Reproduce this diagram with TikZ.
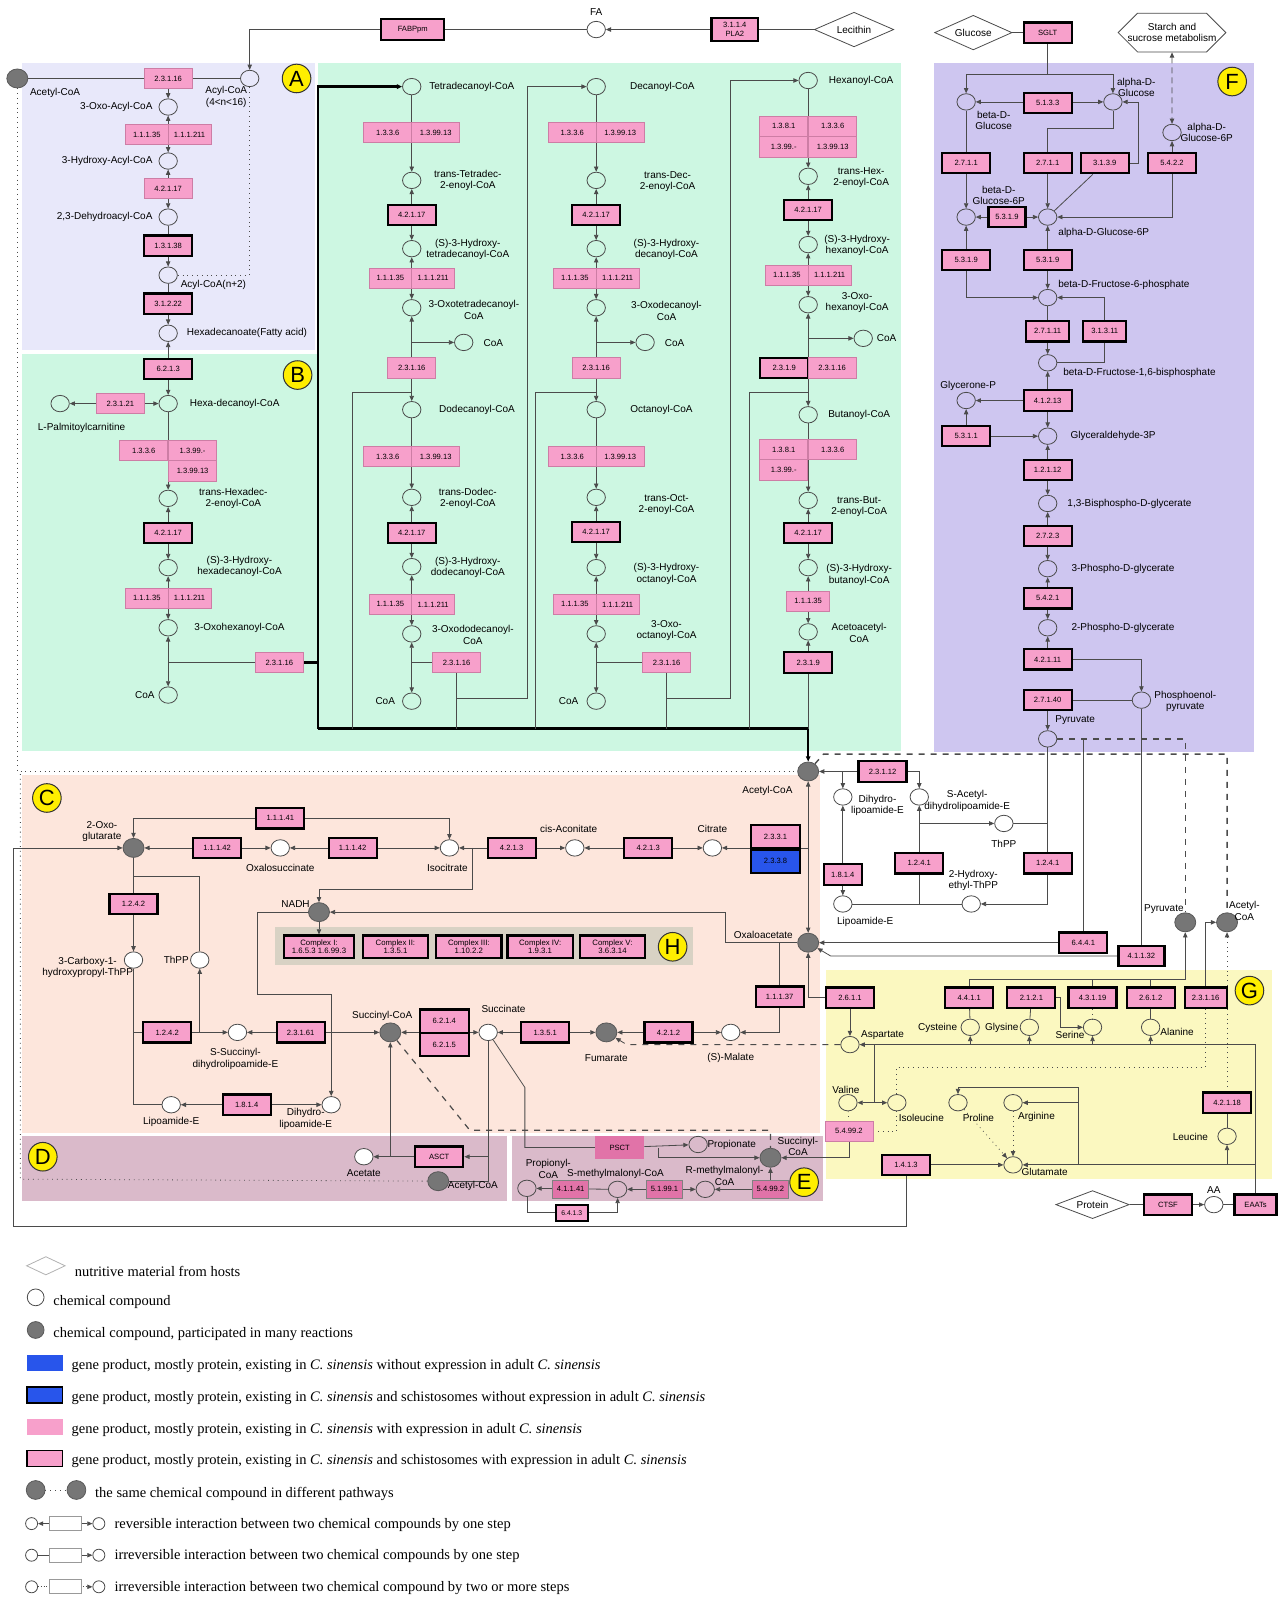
\documentclass[tikz,border=0pt]{standalone}
\usepackage{fontspec}
\setmainfont{Liberation Sans}
\newfontfamily\legendfont{Liberation Serif}
\usetikzlibrary{arrows.meta,shapes.geometric,shapes.misc}

\definecolor{enzpink}{RGB}{247,160,203}
\definecolor{enzline}{RGB}{205,125,165}
\definecolor{enzdeep}{RGB}{225,115,168}
\definecolor{hubgray}{RGB}{118,118,118}
\definecolor{wire}{RGB}{75,75,75}
\definecolor{geneblue}{RGB}{40,85,235}
\definecolor{regA}{RGB}{232,232,250}
\definecolor{regB}{RGB}{205,247,226}
\definecolor{regC}{RGB}{253,230,220}
\definecolor{regD}{RGB}{218,186,202}
\definecolor{regF}{RGB}{206,198,240}
\definecolor{regG}{RGB}{251,248,192}
\definecolor{regH}{RGB}{216,210,196}
\definecolor{markyellow}{RGB}{255,238,0}

\pgfdeclarelayer{regions}
\pgfdeclarelayer{edges}
\pgfsetlayers{regions,edges,main}

\newcommand{\lblfont}{\fontsize{5}{5.7}\selectfont}
\newcommand{\enzfont}{\fontsize{3.8}{4.4}\selectfont}
\newcommand{\legfont}{\legendfont\fontsize{7.25}{8.5}\selectfont}

\tikzset{
  cpd/.style={
    ellipse,
    draw=wire,
    line width=0.4pt,
    minimum width=9.2pt,
    minimum height=8.2pt,
    inner sep=0,
  },
  cpdw/.style={cpd,fill=white},
  hub/.style={
    ellipse,
    draw=black!65,
    fill=hubgray,
    minimum width=10.5pt,
    minimum height=9.5pt,
    inner sep=0,
  },
  enz/.style={
    rectangle,
    fill=enzpink,
    draw=enzline,
    line width=0.3pt,
    minimum width=24pt,
    minimum height=10.2pt,
    inner sep=0,
    font=\enzfont,
  },
  enzb/.style={enz,draw=black,line width=1.1pt},
  enzn/.style={enz,minimum width=21.4pt},
  enzs/.style={enz,fill=enzdeep,draw=black!50,minimum width=18pt,minimum height=9pt},
  cplx/.style={enzb,minimum width=32.6pt,minimum height=11.2pt,align=center,
    font=\fontsize{3.9}{4.3}\selectfont},
  lbl/.style={font=\lblfont,align=center,inner sep=0},
  diam/.style={diamond,draw=wire,fill=white,aspect=2.3,inner sep=0,
    minimum width=39.7pt,minimum height=17.3pt,font=\lblfont},
  octa/.style={chamfered rectangle,chamfered rectangle xsep=5pt,
    chamfered rectangle ysep=5pt,draw=wire,fill=white,minimum width=47pt,
    minimum height=18.5pt,inner sep=0,align=center,font=\lblfont},
  letter/.style={circle,draw=black!80,fill=markyellow,line width=0.5pt,
    minimum size=14.3pt,inner sep=0,font=\fontsize{11}{11}\selectfont},
  leg/.style={anchor=west,inner sep=0,font=\legfont},
  swatch/.style={rectangle,minimum width=17.8pt,minimum height=8pt,inner sep=0},
  thickline/.style={line width=1.2pt,draw=black},
}

\begin{document}
\begin{tikzpicture}[x=0.5096pt,y=-0.5096pt,>={Triangle[length=2.6pt,width=2.2pt]}]
  \useasboundingbox (0,0) rectangle (1254,1568);

  % coloured areas
  \begin{pgfonlayer}{regions}
    \fill[regA] (22,62) rectangle (309,343);
    \fill[regB] (22,347) rectangle (312,737);
    \fill[regB] (312,62) rectangle (884,737);
    \fill[regF] (916,62) rectangle (1230,738);
    \fill[regC] (22,760) rectangle (805,1112);
    \fill[regD] (22,1115) rectangle (497,1178);
    \fill[regD] (502,1115) rectangle (808,1178);
    \fill[regG] (810,952) rectangle (1248,1157);
    \fill[regH] (270,910) rectangle (680,947);
  \end{pgfonlayer}

  \node[letter] (letA) at (291,77) {A};
  \node[letter] (letB) at (292,368) {B};
  \node[letter] (letC) at (46,783) {C};
  \node[letter] (letD) at (42,1135) {D};
  \node[letter] (letE) at (789,1160) {E};
  \node[letter] (letF) at (1209,80) {F};
  \node[letter] (letG) at (1226,972) {G};
  \node[letter] (letH) at (660,929) {H};

  % lipid from host
  \node[diam] (lecithin) at (838,29) {Lecithin};
  \node[enzb,align=center,minimum width=23.4pt,minimum height=11.2pt] (pla2) at (721,29) {3.1.1.4\\PLA2};
  \node[cpd] (fa) at (585,29) {};
  \node[lbl] (tfa) at (585,12) {FA};
  \node[enzb,minimum width=31.6pt] (fabp) at (405,29) {FABPpm};

  % A
  \node[hub] (acA) at (17,77) {};
  \node[lbl] (tacA) at (54,91) {Acetyl-CoA};
  \node[enz] (a1) at (165,77) {2.3.1.16};
  \node[cpd] (acyl) at (245,77) {};
  \node[lbl] (tacyl) at (222,95) {Acyl-CoA\\(4<n<16)};
  \node[cpd] (a3oxo) at (165,105) {};
  \node[lbl,anchor=east] (ta3oxo) at (150,105) {3-Oxo-Acyl-CoA};
  \node[enzn] (a2l) at (144,132) {1.1.1.35};
  \node[enzn] (a2r) at (186,132) {1.1.1.211};
  \node[cpd] (a3hyd) at (165,158) {};
  \node[lbl,anchor=east] (ta3hyd) at (150,158) {3-Hydroxy-Acyl-CoA};
  \node[enz] (a3) at (165,185) {4.2.1.17};
  \node[cpd] (adeh) at (165,213) {};
  \node[lbl,anchor=east] (tadeh) at (150,213) {2,3-Dehydroacyl-CoA};
  \node[enzb] (a4) at (165,241) {1.3.1.38};
  \node[cpd] (acyl2) at (165,270) {};
  \node[lbl,anchor=west] (tacyl2) at (177,280) {Acyl-CoA(n+2)};
  \node[enzb] (a5) at (165,298) {3.1.2.22};
  \node[cpd] (hexacid) at (165,327) {};
  \node[lbl,anchor=west] (thexacid) at (183,327) {Hexadecanoate(Fatty acid)};

  % B
  \node[enzb] (b1) at (165,362) {6.2.1.3};
  \node[cpd] (hexcoa) at (165,396) {};
  \node[lbl,anchor=west] (thexcoa) at (186,396) {Hexa-decanoyl-CoA};
  \node[enz] (b2) at (118,396) {2.3.1.21};
  \node[cpd] (palm) at (59,396) {};
  \node[lbl] (tpalm) at (80,420) {L-Palmitoylcarnitine};
  \node[enz] (b3a) at (141,442) {1.3.3.6};
  \node[enz] (b3b) at (189,442) {1.3.99.-};
  \node[enz] (b3c) at (189,462) {1.3.99.13};
  \node[cpd] (b4) at (165,489) {};
  \node[lbl] (tb4) at (229,489) {trans-Hexadec-\\2-enoyl-CoA};
  \node[enzb] (b5) at (165,523) {4.2.1.17};
  \node[cpd] (b6) at (165,557) {};
  \node[lbl] (tb6) at (235,556) {(S)-3-Hydroxy-\\hexadecanoyl-CoA};
  \node[enzn] (b7a) at (144,587) {1.1.1.35};
  \node[enzn] (b7b) at (186,587) {1.1.1.211};
  \node[cpd] (b8) at (165,616) {};
  \node[lbl] (tb8) at (235,616) {3-Oxohexanoyl-CoA};
  \node[enz] (b9) at (274,650) {2.3.1.16};
  \node[cpd] (b10) at (165,682) {};
  \node[lbl,anchor=east] (tb10) at (152,682) {CoA};

  % first column
  \node[cpd] (tet) at (404,85) {};
  \node[lbl] (ttet) at (463,85) {Tetradecanoyl-CoA};
  \node[enz] (k1a) at (380.5,130) {1.3.3.6};
  \node[enz] (k1b) at (427.5,130) {1.3.99.13};
  \node[cpd] (k1c) at (404,177) {};
  \node[lbl] (tk1c) at (459,177) {trans-Tetradec-\\2-enoyl-CoA};
  \node[enzb] (k1d) at (404,211) {4.2.1.17};
  \node[cpd] (k1e) at (404,244) {};
  \node[lbl] (tk1e) at (459,245) {(S)-3-Hydroxy-\\tetradecanoyl-CoA};
  \node[enzn] (k1f) at (383,273) {1.1.1.35};
  \node[enzn] (k1g) at (425,273) {1.1.1.211};
  \node[cpd] (k1h) at (404,302) {};
  \node[lbl] (tk1h) at (465,304) {3-Oxotetradecanoyl-\\CoA};
  \node[cpd] (k1coa) at (455,336) {};
  \node[lbl] (tk1coa) at (484,337) {CoA};
  \node[enz] (k1i) at (404,361) {2.3.1.16};
  \node[cpd] (dod) at (404,402) {};
  \node[lbl] (tdod) at (468,402) {Dodecanoyl-CoA};
  \node[enz] (k2a) at (380.5,448) {1.3.3.6};
  \node[enz] (k2b) at (427.5,448) {1.3.99.13};
  \node[cpd] (k2c) at (404,488) {};
  \node[lbl] (tk2c) at (459,489) {trans-Dodec-\\2-enoyl-CoA};
  \node[enzb] (k2d) at (404,523) {4.2.1.17};
  \node[cpd] (k2e) at (404,556) {};
  \node[lbl] (tk2e) at (459,557) {(S)-3-Hydroxy-\\dodecanoyl-CoA};
  \node[enzn] (k2f) at (383,593) {1.1.1.35};
  \node[enzn] (k2g) at (425,593) {1.1.1.211};
  \node[cpd] (k2h) at (404,622) {};
  \node[lbl] (tk2h) at (464,623) {3-Oxododecanoyl-\\CoA};
  \node[enz] (k2i) at (448,650) {2.3.1.16};
  \node[cpd] (k2coa) at (404,688) {};
  \node[lbl] (tk2coa) at (378,688) {CoA};

  % second column
  \node[cpd] (dec) at (585,85) {};
  \node[lbl] (tdec) at (650,85) {Decanoyl-CoA};
  \node[enz] (k3a) at (561.5,130) {1.3.3.6};
  \node[enz] (k3b) at (608.5,130) {1.3.99.13};
  \node[cpd] (k3c) at (585,177) {};
  \node[lbl] (tk3c) at (655,178) {trans-Dec-\\2-enoyl-CoA};
  \node[enzb] (k3d) at (585,211) {4.2.1.17};
  \node[cpd] (k3e) at (585,244) {};
  \node[lbl] (tk3e) at (654,245) {(S)-3-Hydroxy-\\decanoyl-CoA};
  \node[enzn] (k3f) at (564,273) {1.1.1.35};
  \node[enzn] (k3g) at (606,273) {1.1.1.211};
  \node[cpd] (k3h) at (585,302) {};
  \node[lbl] (tk3h) at (654,305) {3-Oxodecanoyl-\\CoA};
  \node[cpd] (k3coa) at (633,336) {};
  \node[lbl] (tk3coa) at (662,337) {CoA};
  \node[enz] (k3i) at (585,361) {2.3.1.16};
  \node[cpd] (oct) at (585,402) {};
  \node[lbl] (toct) at (649,402) {Octanoyl-CoA};
  \node[enz] (k4a) at (561.5,448) {1.3.3.6};
  \node[enz] (k4b) at (608.5,448) {1.3.99.13};
  \node[cpd] (k4c) at (585,488) {};
  \node[lbl] (tk4c) at (654,495) {trans-Oct-\\2-enoyl-CoA};
  \node[enzb] (k4d) at (585,522) {4.2.1.17};
  \node[cpd] (k4e) at (585,557) {};
  \node[lbl] (tk4e) at (654,563) {(S)-3-Hydroxy-\\octanoyl-CoA};
  \node[enzn] (k4f) at (564,593) {1.1.1.35};
  \node[enzn] (k4g) at (606,593) {1.1.1.211};
  \node[cpd] (k4h) at (585,622) {};
  \node[lbl] (tk4h) at (654,619) {3-Oxo-\\octanoyl-CoA};
  \node[enz] (k4i) at (654,650) {2.3.1.16};
  \node[cpd] (k4coa) at (585,688) {};
  \node[lbl] (tk4coa) at (558,688) {CoA};

  % third column
  \node[cpd] (hexn) at (793,79) {};
  \node[lbl] (thexn) at (845,79) {Hexanoyl-CoA};
  \node[enz] (k5a) at (769,124) {1.3.8.1};
  \node[enz] (k5b) at (817,124) {1.3.3.6};
  \node[enz] (k5c) at (769,144) {1.3.99.-};
  \node[enz] (k5d) at (817,144) {1.3.99.13};
  \node[cpd] (k5e) at (793,173) {};
  \node[lbl] (tk5e) at (845,174) {trans-Hex-\\2-enoyl-CoA};
  \node[enzb] (k5f) at (793,206) {4.2.1.17};
  \node[cpd] (k5g) at (793,240) {};
  \node[lbl] (tk5g) at (841,241) {(S)-3-Hydroxy-\\hexanoyl-CoA};
  \node[enzn] (k5h) at (772,270) {1.1.1.35};
  \node[enzn] (k5i) at (814,270) {1.1.1.211};
  \node[cpd] (k5j) at (793,299) {};
  \node[lbl] (tk5j) at (841,297) {3-Oxo-\\hexanoyl-CoA};
  \node[cpd] (k5coa) at (847,332) {};
  \node[lbl] (tk5coa) at (870,332) {CoA};
  \node[enzb] (k5k) at (769.5,361) {2.3.1.9};
  \node[enz] (k5l) at (816.5,361) {2.3.1.16};
  \node[cpd] (but) at (793,407) {};
  \node[lbl] (tbut) at (843,407) {Butanoyl-CoA};
  \node[enz] (k6a) at (769,441) {1.3.8.1};
  \node[enz] (k6b) at (817,441) {1.3.3.6};
  \node[enz] (k6c) at (769,461) {1.3.99.-};
  \node[cpd] (k6d) at (793,491) {};
  \node[lbl] (tk6d) at (843,497) {trans-But-\\2-enoyl-CoA};
  \node[enzb] (k6e) at (793,523) {4.2.1.17};
  \node[cpd] (k6f) at (793,557) {};
  \node[lbl] (tk6f) at (843,564) {(S)-3-Hydroxy-\\butanoyl-CoA};
  \node[enzn] (k6g) at (793,590) {1.1.1.35};
  \node[cpd] (k6h) at (793,620) {};
  \node[lbl] (tk6h) at (843,621) {Acetoacetyl-\\CoA};
  \node[enzb] (k6i) at (793,650) {2.3.1.9};

  % F glycolysis
  \node[diam,minimum width=38.7pt] (glc) at (955,32) {Glucose};
  \node[enzb] (sglt) at (1028,32) {SGLT};
  \node[octa] (starch) at (1150,32) {Starch and\\sucrose metabolism};
  \node[cpd] (bglc) at (948,100) {};
  \node[lbl] (tbglc) at (975,118) {beta-D-\\Glucose};
  \node[cpd] (aglc) at (1092,100) {};
  \node[lbl] (taglc) at (1115,86) {alpha-D-\\Glucose};
  \node[enzb] (f5133) at (1028,101) {5.1.3.3};
  \node[enzb] (f2711a) at (948,160) {2.7.1.1};
  \node[enzb] (f2711b) at (1028,160) {2.7.1.1};
  \node[enzb] (f3139) at (1084,160) {3.1.3.9};
  \node[enzb] (f5422) at (1150,160) {5.4.2.2};
  \node[cpd] (ag6b) at (1150,130) {};
  \node[lbl] (tag6b) at (1184,130) {alpha-D-\\Glucose-6P};
  \node[cpd] (bg6) at (948,213) {};
  \node[lbl] (tbg6) at (980,192) {beta-D-\\Glucose-6P};
  \node[cpd] (ag6) at (1028,213) {};
  \node[lbl] (tag6) at (1083,229) {alpha-D-Glucose-6P};
  \node[enzb,minimum width=18.5pt] (f5319a) at (988,213) {5.3.1.9};
  \node[enzb] (f5319b) at (948,255) {5.3.1.9};
  \node[enzb] (f5319c) at (1028,255) {5.3.1.9};
  \node[cpd] (f6p) at (1028,292) {};
  \node[lbl,anchor=west] (tf6p) at (1038,280) {beta-D-Fructose-6-phosphate};
  \node[enzb,minimum width=21.4pt] (f27111) at (1028,325) {2.7.1.11};
  \node[enzb,minimum width=21.4pt] (f31311) at (1084,325) {3.1.3.11};
  \node[cpd] (fbp) at (1028,356) {};
  \node[lbl,anchor=west] (tfbp) at (1043,366) {beta-D-Fructose-1,6-bisphosphate};
  \node[enzb] (f41213) at (1028,393) {4.1.2.13};
  \node[cpd] (dhap) at (948,393) {};
  \node[lbl] (tdhap) at (950,379) {Glycerone-P};
  \node[enzb] (f5311) at (948,428) {5.3.1.1};
  \node[cpd] (gap) at (1028,428) {};
  \node[lbl,anchor=west] (tgap) at (1050,428) {Glyceraldehyde-3P};
  \node[enzb] (f12112) at (1028,461) {1.2.1.12};
  \node[cpd] (bpg) at (1028,494) {};
  \node[lbl,anchor=west] (tbpg) at (1047,494) {1,3-Bisphospho-D-glycerate};
  \node[enzb] (f2723) at (1028,526) {2.7.2.3};
  \node[cpd] (pg3) at (1028,558) {};
  \node[lbl,anchor=west] (tpg3) at (1051,558) {3-Phospho-D-glycerate};
  \node[enzb] (f5421) at (1028,587) {5.4.2.1};
  \node[cpd] (pg2) at (1028,616) {};
  \node[lbl,anchor=west] (tpg2) at (1051,616) {2-Phospho-D-glycerate};
  \node[enzb] (f42111) at (1028,647) {4.2.1.11};
  \node[enzb] (f27140) at (1028,687) {2.7.1.40};
  \node[cpd] (pep) at (1120,687) {};
  \node[lbl] (tpep) at (1163,688) {Phosphoenol-\\pyruvate};
  \node[cpd] (pyr) at (1028,725) {};
  \node[lbl] (tpyr) at (1055,707) {Pyruvate};

  % pyruvate dehydrogenase
  \node[hub] (acC) at (793,757) {};
  \node[lbl] (tacC) at (753,776) {Acetyl-CoA};
  \node[enzb] (p23112) at (866,757) {2.3.1.12};
  \node[cpdw] (dhlp) at (827,782) {};
  \node[lbl] (tdhlp) at (861,790) {Dihydro-\\lipoamide-E};
  \node[cpdw] (sacd) at (902,782) {};
  \node[lbl] (tsacd) at (949,786) {S-Acetyl-\\dihydrolipoamide-E};
  \node[enzb,minimum width=19pt] (p1814) at (827,858) {1.8.1.4};
  \node[cpdw] (lipP) at (827,887) {};
  \node[lbl] (tlipP) at (849,905) {Lipoamide-E};
  \node[enzb] (p1241a) at (902,847) {1.2.4.1};
  \node[cpdw] (hyd) at (953,887) {};
  \node[lbl] (thyd) at (955,864) {2-Hydroxy-\\ethyl-ThPP};
  \node[cpdw] (thp2) at (985,808) {};
  \node[lbl] (tthp2) at (985,828) {ThPP};
  \node[enzb] (p1241b) at (1028,847) {1.2.4.1};
  \node[enzb] (p6441) at (1063,925) {6.4.4.1};
  \node[enzb,minimum width=23pt] (p41132) at (1120,938) {4.1.1.32};

  % C citrate cycle
  \node[hub] (og) at (131,832) {};
  \node[lbl] (tog) at (100,816) {2-Oxo-\\glutarate};
  \node[enzb] (c1141) at (275,803) {1.1.1.41};
  \node[enzb] (c1142a) at (213,832) {1.1.1.42};
  \node[cpdw] (oxs) at (275,832) {};
  \node[lbl] (toxs) at (275,852) {Oxalosuccinate};
  \node[enzb] (c1142b) at (346,832) {1.1.1.42};
  \node[cpdw] (iso) at (441,832) {};
  \node[lbl] (tiso) at (439,852) {Isocitrate};
  \node[enzb] (c4213a) at (502,832) {4.2.1.3};
  \node[cpdw] (cis) at (564,832) {};
  \node[lbl] (tcis) at (558,813) {cis-Aconitate};
  \node[enzb] (c4213b) at (636,832) {4.2.1.3};
  \node[cpdw] (cit) at (699,832) {};
  \node[lbl] (tcit) at (699,813) {Citrate};
  \node[enzb,minimum height=11.7pt,minimum width=24.5pt] (c2331) at (761,821) {2.3.3.1};
  \node[enzb,minimum height=11.7pt,minimum width=24.5pt,fill=geneblue] (c2338) at (761,845) {2.3.3.8};
  \node[hub] (oaa) at (793,925) {};
  \node[lbl] (toaa) at (749,917) {Oxaloacetate};
  \node[hub] (nadh) at (313,895) {};
  \node[lbl] (tnadh) at (290,887) {NADH};
  \node[cplx,minimum width=35pt] (cI) at (313,929) {Complex I:\\1.6.5.3 1.6.99.3};
  \node[cplx] (cII) at (388,929) {Complex II:\\1.3.5.1};
  \node[cplx] (cIII) at (460,929) {Complex III:\\1.10.2.2};
  \node[cplx] (cIV) at (530,929) {Complex IV:\\1.9.3.1};
  \node[cplx] (cV) at (601,929) {Complex V:\\3.6.3.14};
  \node[enzb] (c1242a) at (131,887) {1.2.4.2};
  \node[cpdw] (cbx) at (131,942) {};
  \node[lbl] (tcbx) at (86,949) {3-Carboxy-1-\\hydroxypropyl-ThPP};
  \node[cpdw] (thpp) at (196,942) {};
  \node[lbl] (tthpp) at (173,942) {ThPP};
  \node[enzb] (c1242b) at (164,1013) {1.2.4.2};
  \node[cpdw] (ssd) at (233,1013) {};
  \node[lbl] (tssd) at (231,1039) {S-Succinyl-\\dihydrolipoamide-E};
  \node[enzb] (c23161) at (295,1013) {2.3.1.61};
  \node[hub] (sucC) at (383,1013) {};
  \node[lbl] (tsucC) at (375,997) {Succinyl-CoA};
  \node[enzb,minimum height=11.7pt,minimum width=24.5pt] (c6214) at (436,1002) {6.2.1.4};
  \node[enzb,minimum height=11.7pt,minimum width=24.5pt] (c6215) at (436,1025) {6.2.1.5};
  \node[cpdw] (succ) at (479,1013) {};
  \node[lbl] (tsucc) at (494,990) {Succinate};
  \node[enzb] (c1351) at (535,1013) {1.3.5.1};
  \node[hub] (fum) at (595,1013) {};
  \node[lbl] (tfum) at (595,1038) {Fumarate};
  \node[enzb] (c4212) at (656,1013) {4.2.1.2};
  \node[cpdw] (mal) at (717,1013) {};
  \node[lbl] (tmal) at (717,1038) {(S)-Malate};
  \node[enzb] (c11137) at (765,978) {1.1.1.37};
  \node[cpdw] (lip) at (168,1084) {};
  \node[lbl] (tlip) at (168,1101) {Lipoamide-E};
  \node[enzb] (c1814) at (242,1084) {1.8.1.4};
  \node[cpdw] (dhl) at (325,1084) {};
  \node[lbl] (tdhl) at (300,1098) {Dihydro-\\lipoamide-E};

  % D
  \node[enzb] (asct) at (431,1135) {ASCT};
  \node[cpdw] (acet) at (357,1135) {};
  \node[lbl] (tacet) at (357,1151) {Acetate};
  \node[hub] (acD) at (430,1159) {};
  \node[lbl] (tacD) at (464,1164) {Acetyl-CoA};

  % E
  \node[enzs,draw=none,minimum width=24.5pt,minimum height=11.2pt] (psct) at (608,1126) {PSCT};
  \node[cpd] (prop) at (685,1123) {};
  \node[lbl] (tprop) at (718,1123) {Propionate};
  \node[hub] (sucE) at (756,1136) {};
  \node[lbl] (tsucE) at (783,1125) {Succinyl-\\CoA};
  \node[cpd] (propC) at (517,1166) {};
  \node[lbl] (tpropC) at (538,1147) {Propionyl-\\CoA};
  \node[enzs] (e41141) at (560,1167) {4.1.1.41};
  \node[cpd] (mmS) at (606,1167) {};
  \node[lbl] (tmmS) at (604,1152) {S-methylmalonyl-CoA};
  \node[enzs] (e5199) at (652,1167) {5.1.99.1};
  \node[cpd] (mmR) at (692,1167) {};
  \node[lbl] (tmmR) at (711,1154) {R-methylmalonyl-\\CoA};
  \node[enzs] (e5499) at (756,1167) {5.4.99.2};
  \node[enzb,minimum width=16pt,minimum height=8pt,font=\fontsize{3.4}{4}\selectfont] (e6413) at (561,1190) {6.4.1.3};

  % G amino acids
  \node[enzb] (g2611) at (834,979) {2.6.1.1};
  \node[cpd] (asp) at (834,1025) {};
  \node[lbl] (tasp) at (866,1016) {Aspartate};
  \node[enzb] (g4411) at (951,979) {4.4.1.1};
  \node[enzb] (g2121) at (1012,979) {2.1.2.1};
  \node[enzb] (g43119) at (1072,979) {4.3.1.19};
  \node[enzb] (g2612) at (1129,979) {2.6.1.2};
  \node[enzb,minimum width=21pt] (g23116) at (1183,979) {2.3.1.16};
  \node[cpd] (cys) at (952,1008) {};
  \node[lbl] (tcys) at (920,1009) {Cysteine};
  \node[cpd] (gly) at (1010,1008) {};
  \node[lbl] (tgly) at (983,1009) {Glysine};
  \node[cpd] (ser) at (1072,1008) {};
  \node[lbl] (tser) at (1050,1015) {Serine};
  \node[cpd] (ala) at (1129,1008) {};
  \node[lbl] (tala) at (1155,1013) {Alanine};
  \node[hub] (pyG) at (1163,905) {};
  \node[lbl] (tpyG) at (1142,892) {Pyruvate};
  \node[hub] (acG) at (1204,905) {};
  \node[lbl] (tacG) at (1221,894) {Acetyl-\\CoA};
  \node[cpd] (val) at (832,1082) {};
  \node[lbl] (tval) at (830,1069) {Valine};
  \node[cpd] (ile) at (880,1082) {};
  \node[lbl] (tile) at (904,1097) {Isoleucine};
  \node[enz] (g5499) at (833,1110) {5.4.99.2};
  \node[cpd] (pro) at (940,1082) {};
  \node[lbl] (tpro) at (960,1097) {Proline};
  \node[cpd] (arg) at (994,1082) {};
  \node[lbl] (targ) at (1017,1096) {Arginine};
  \node[cpd] (glu) at (994,1143) {};
  \node[lbl] (tglu) at (1025,1150) {Glutamate};
  \node[enzb] (g1413) at (889,1143) {1.4.1.3};
  \node[enzb] (g42118) at (1204,1082) {4.2.1.18};
  \node[cpd] (leu) at (1204,1115) {};
  \node[lbl] (tleu) at (1168,1116) {Leucine};
  \node[diam,minimum width=36.7pt,minimum height=14pt] (prot) at (1072,1182) {Protein};
  \node[enzb] (ctsf) at (1146,1182) {CTSF};
  \node[cpdw] (aa) at (1191,1182) {};
  \node[lbl] (taa) at (1191,1168) {AA};
  \node[enzb,minimum width=21pt] (eaat) at (1232,1182) {EAATs};

  % connectors
  \begin{pgfonlayer}{edges}
  \begin{scope}[draw=wire,line width=0.4pt]
    \draw (lecithin) -- (pla2);
    \draw[->] (pla2) -- (fa);
    \draw (fa) -- (fabp);
    \draw[->] (fabp) -| (acyl);
    % A
    \draw (acA) -- (acyl);
    \draw[->] (a1) -- (a3oxo);
    \draw[<->] (a3oxo) -- (a3hyd);
    \draw[<->] (a3hyd) -- (adeh);
    \draw[->] (adeh) -- (acyl2);
    \draw[->] (acyl2) -- (hexacid);
    \draw[dotted] (acyl2) -| (acyl);
    \draw[dotted] (acA) |- (acC);
    % B
    \draw[->] (b1) -- (hexacid);
    \draw[->] (b1) -- (hexcoa);
    \draw[->] (b2) -- (palm);
    \draw[->] (b2) -- (hexcoa);
    \draw[->] (hexcoa) -- (b4);
    \draw[<->] (b4) -- (b6);
    \draw[<->] (b6) -- (b8);
    \draw[<->] (b8) -- (b10);
    \draw (165,650) -- (b9);
    \draw[thickline] (b9) -- (312,650);
    \draw[thickline,->] (312,715) |- (tet);
    \draw[thickline,->] (312,715) -| (acC);
    % columns
    \draw[->] (tet) -- (k1c);
    \draw[<->] (k1c) -- (k1e);
    \draw[<->] (k1e) -- (k1h);
    \draw[->] (404,336) -- (k1coa);
    \draw[<->] (k1h) -- (dod);
    \draw (346,715) |- (404,385);
    \draw[->] (dod) -- (k2c);
    \draw[<->] (k2c) -- (k2e);
    \draw[<->] (k2e) -- (k2h);
    \draw[<->] (k2h) -- (k2coa);
    \draw (404,650) -- (k2i);
    \draw (k2i) -- (448,715);
    \draw[->] (448,685) -| (517,85) -- (dec);
    \draw[->] (dec) -- (k3c);
    \draw[<->] (k3c) -- (k3e);
    \draw[<->] (k3e) -- (k3h);
    \draw[->] (585,336) -- (k3coa);
    \draw[<->] (k3h) -- (oct);
    \draw (525,715) |- (585,385);
    \draw[->] (oct) -- (k4c);
    \draw[<->] (k4c) -- (k4e);
    \draw[<->] (k4e) -- (k4h);
    \draw[<->] (k4h) -- (k4coa);
    \draw (585,650) -- (k4i);
    \draw (k4i) -- (654,715);
    \draw[->] (654,685) -| (717,79) -- (hexn);
    \draw[->] (hexn) -- (k5e);
    \draw[<->] (k5e) -- (k5g);
    \draw[<->] (k5g) -- (k5j);
    \draw[->] (793,332) -- (k5coa);
    \draw[<->] (k5j) -- (but);
    \draw (735,715) |- (793,385);
    \draw[->] (but) -- (k6d);
    \draw[<->] (k6d) -- (k6f);
    \draw[<->] (k6f) -- (k6h);
    \draw[<-] (k6h) -- (k6i);
    \draw (k6i) -- (793,715);
    % F
    \draw (glc) -- (sglt);
    \draw (sglt) -- (1028,73);
    \draw[->] (1028,73) -| (bglc);
    \draw[->] (1028,73) -| (aglc);
    \draw[<->] (bglc) -- (aglc);
    \draw[->] (bglc) -- (bg6);
    \draw[->] (aglc) |- (1028,126) -- (ag6);
    \draw[->] (f3139) -- (1117,160) |- (aglc);
    \draw (f3139) -- (ag6);
    \draw[<->,densely dashed] (starch) -- (ag6b);
    \draw[->] (f5422) -- (ag6b);
    \draw[->] (f5422) |- (ag6);
    \draw[<->] (bg6) -- (ag6);
    \draw[<->] (bg6) |- (f6p);
    \draw[<->] (ag6) -- (f6p);
    \draw[->] (f6p) -- (fbp);
    \draw[->] (fbp) -| (1084,292) -- (f6p);
    \draw[<->] (fbp) -- (gap);
    \draw[->] (f41213) -- (dhap);
    \draw[->] (f5311) -- (dhap);
    \draw[->] (f5311) -- (gap);
    \draw[<->] (gap) -- (bpg);
    \draw[<->] (bpg) -- (pg3);
    \draw[<->] (pg3) -- (pg2);
    \draw[<-] (pg2) -- (f42111);
    \draw[->] (f42111) -| (pep);
    \draw (pep) -- (f27140);
    \draw[->] (f27140) -- (pyr);
    % pyruvate to acetyl-CoA and oxaloacetate
    \draw[dashed,line width=0.7pt] (pyr) -- (1163,725) -- (pyG);
    \draw[dashed,line width=0.7pt] (acC) -- (808,740) -- (1204,740) -- (acG);
    \draw (1063,725) -- (p6441);
    \draw[->] (p6441) -- (oaa);
    \draw (pep) -- (p41132);
    \draw[->] (p41132) -- (815,938) -- (oaa);
    \draw[->] (p23112) -- (acC);
    \draw[->] (827,757) -- (dhlp);
    \draw[->] (p23112) -| (sacd);
    \draw[<->] (lipP) -- (dhlp);
    \draw (lipP) -- (hyd);
    \draw[->] (902,887) -- (sacd);
    \draw[->] (902,808) -- (thp2);
    \draw (thp2) -- (1028,808);
    \draw (pyr) -- (1028,887);
    \draw[->] (1028,887) -- (hyd);
    % C
    \draw[<->] (og) -- (oxs);
    \draw[<->] (oxs) -- (iso);
    \draw[->] (c1141) -| (og);
    \draw[->] (c1141) -| (iso);
    \draw[<->] (iso) -- (cis);
    \draw[<->] (cis) -- (cit);
    \draw[->] (793,832) -- (cit);
    \draw[<->] (acC) -- (oaa);
    \draw[->] (464,832) -- (464,873) -| (nadh);
    \draw[->] (oaa) -- (712,925) |- (nadh);
    \draw[->] (nadh) -- (cI);
    \draw[->] (nadh) -- (253,895) |- (325,976) -- (dhl);
    \draw[->] (og) -- (cbx);
    \draw (131,860) -| (thpp);
    \draw (cbx) |- (lip);
    \draw[->] (131,1013) -- (ssd);
    \draw[->] (196,1013) -- (thpp);
    \draw[<->] (ssd) -- (sucC);
    \draw[<->] (sucC) -- (succ);
    \draw[<->] (succ) -- (fum);
    \draw[<->] (fum) -- (mal);
    \draw[->] (765,925) |- (mal);
    \draw[<->] (lip) -- (dhl);
    \draw[dashed,line width=0.6pt] (sucC) -- (461,1109) -- (756,1109) -- (sucE);
    % D
    \draw (succ) |- (acD);
    \draw[->] (479,1135) -- (asct);
    \draw[->] (asct) -- (acet);
    \draw[->] (383,1135) -- (sucC);
    \draw[dotted] (acD) -- (20,1157) -- (20,757);
    % E
    \draw (succ) -- (515,1067) -- (515,1126) -- (psct);
    \draw[->] (psct) -- (prop);
    \draw[->] (646,1126) |- (sucE);
    \draw[->] (mmS) -- (propC);
    \draw[<->] (mmS) -- (mmR);
    \draw[->] (e5499) -- (mmR);
    \draw[->] (e5499) -- (sucE);
    \draw (propC) |- (e6413);
    \draw[->] (e6413) -| (mmS);
    % G
    \draw[->] (g2611) -| (oaa);
    \draw[->] (g2611) -- (asp);
    \draw[->,dashed] (asp) -- (615,1025) -- (fum);
    \draw[->] (eaat) |- (asp);
    \draw[->] (952,1025) -- (cys);
    \draw[->] (1010,1025) -- (gly);
    \draw[->] (1072,1025) -- (ser);
    \draw[->] (1129,1025) -- (ala);
    \draw (g4411) -- (cys);
    \draw (g2121) -- (gly);
    \draw[dotted] (g43119) -- (ser);
    \draw (g2612) -- (ala);
    \draw[->] (g2121) -- (1040,979) |- (ser);
    \draw[->] (g4411) |- (1163,961) -- (pyG);
    \draw (g43119) -- (1072,961);
    \draw (g2612) -- (1129,961);
    \draw[->] (g23116) |- (acG);
    \draw (858,1025) -- (858,1082);
    \draw[->] (858,1082) -- (val);
    \draw[->] (858,1082) -- (ile);
    \draw[dotted] (val) -- (g5499);
    \draw[dotted] (g5499) -| (ile);
    \draw[dotted] (ile) |- (1183,1047) -- (g23116);
    \draw[->] (g5499) |- (sucE);
    \draw[->,dotted] (g42118) -- (acG);
    \draw (leu) -- (g42118);
    \draw[->] (1204,1143) -- (leu);
    \draw[->] (eaat) |- (glu);
    \draw[->] (1058,1143) |- (arg);
    \draw[->] (1058,1082) |- (940,1067) -- (pro);
    \draw[->,dotted] (pro) -- (glu);
    \draw[->,dotted] (arg) -- (glu);
    \draw[->] (g1413) -- (glu);
    \draw[->] (g1413) |- (13,1203) |- (og);
    \draw (prot) -- (ctsf);
    \draw[->] (ctsf) -- (aa);
    \draw (aa) -- (eaat);
  \end{scope}
  \end{pgfonlayer}

  % legend
  \node[diam,draw=black!30,minimum width=19.4pt,minimum height=9.2pt] (lg1) at (45,1242) {};
  \node[leg] (tlg1) at (73,1248) {nutritive material from hosts};
  \node[cpd,minimum width=8.4pt,minimum height=8.4pt] (lg2) at (35,1273) {};
  \node[leg] (tlg2) at (52,1278) {chemical compound};
  \node[hub,minimum width=8.4pt,minimum height=8.4pt] (lg3) at (35,1305) {};
  \node[leg] (tlg3) at (52,1309) {chemical compound, participated in many reactions};
  \node[swatch,fill=geneblue] (lg4) at (44,1337) {};
  \node[leg] (tlg4) at (70,1340) {gene product, mostly protein, existing in \textit{C. sinensis} without expression in adult \textit{C. sinensis}};
  \node[swatch,fill=geneblue,draw=black,line width=0.8pt] (lg5) at (44,1369) {};
  \node[leg] (tlg5) at (70,1372) {gene product, mostly protein, existing in \textit{C. sinensis} and schistosomes without expression in adult \textit{C. sinensis}};
  \node[swatch,fill=enzpink] (lg6) at (44,1400) {};
  \node[leg] (tlg6) at (70,1403) {gene product, mostly protein, existing in \textit{C. sinensis} with expression in adult \textit{C. sinensis}};
  \node[swatch,fill=enzpink,draw=black,line width=0.8pt] (lg7) at (44,1431) {};
  \node[leg] (tlg7) at (70,1434) {gene product, mostly protein, existing in \textit{C. sinensis} and schistosomes with expression in adult \textit{C. sinensis}};
  \node[hub,minimum width=9.4pt,minimum height=9.4pt] (lg8a) at (35,1462) {};
  \node[hub,minimum width=9.4pt,minimum height=9.4pt] (lg8b) at (75,1462) {};
  \draw[dotted,draw=wire] (lg8a) -- (lg8b);
  \node[leg] (tlg8) at (93,1466) {the same chemical compound in different pathways};
  \node[cpd,minimum width=6pt,minimum height=6pt] (lg9a) at (31,1495) {};
  \node[rectangle,draw=black!40,fill=white,minimum width=16.3pt,minimum height=7pt,inner sep=0] (lg9b) at (64,1495) {};
  \node[cpd,minimum width=6pt,minimum height=6pt] (lg9c) at (97,1495) {};
  \node[leg] (tlg9) at (112,1496) {reversible interaction between two chemical compounds by one step};
  \node[cpd,minimum width=6pt,minimum height=6pt] (lg10a) at (31,1526) {};
  \node[rectangle,draw=black!40,fill=white,minimum width=16.3pt,minimum height=7pt,inner sep=0] (lg10b) at (64,1526) {};
  \node[cpd,minimum width=6pt,minimum height=6pt] (lg10c) at (97,1526) {};
  \node[leg] (tlg10) at (112,1527) {irreversible interaction between two chemical compounds by one step};
  \node[cpd,minimum width=6pt,minimum height=6pt] (lg11a) at (31,1557) {};
  \node[rectangle,draw=black!40,fill=white,minimum width=16.3pt,minimum height=7pt,inner sep=0] (lg11b) at (64,1557) {};
  \node[cpd,minimum width=6pt,minimum height=6pt] (lg11c) at (97,1557) {};
  \node[leg] (tlg11) at (112,1558) {irreversible interaction between two chemical compound by two or more steps};
  \begin{pgfonlayer}{edges}
    \draw[<->,draw=wire,line width=0.4pt] (lg9a) -- (lg9c);
    \draw[->,draw=wire,line width=0.4pt] (lg10a) -- (lg10c);
    \draw[->,draw=wire,line width=0.4pt,densely dotted] (lg11a) -- (lg11c);
  \end{pgfonlayer}
\end{tikzpicture}
\end{document}
